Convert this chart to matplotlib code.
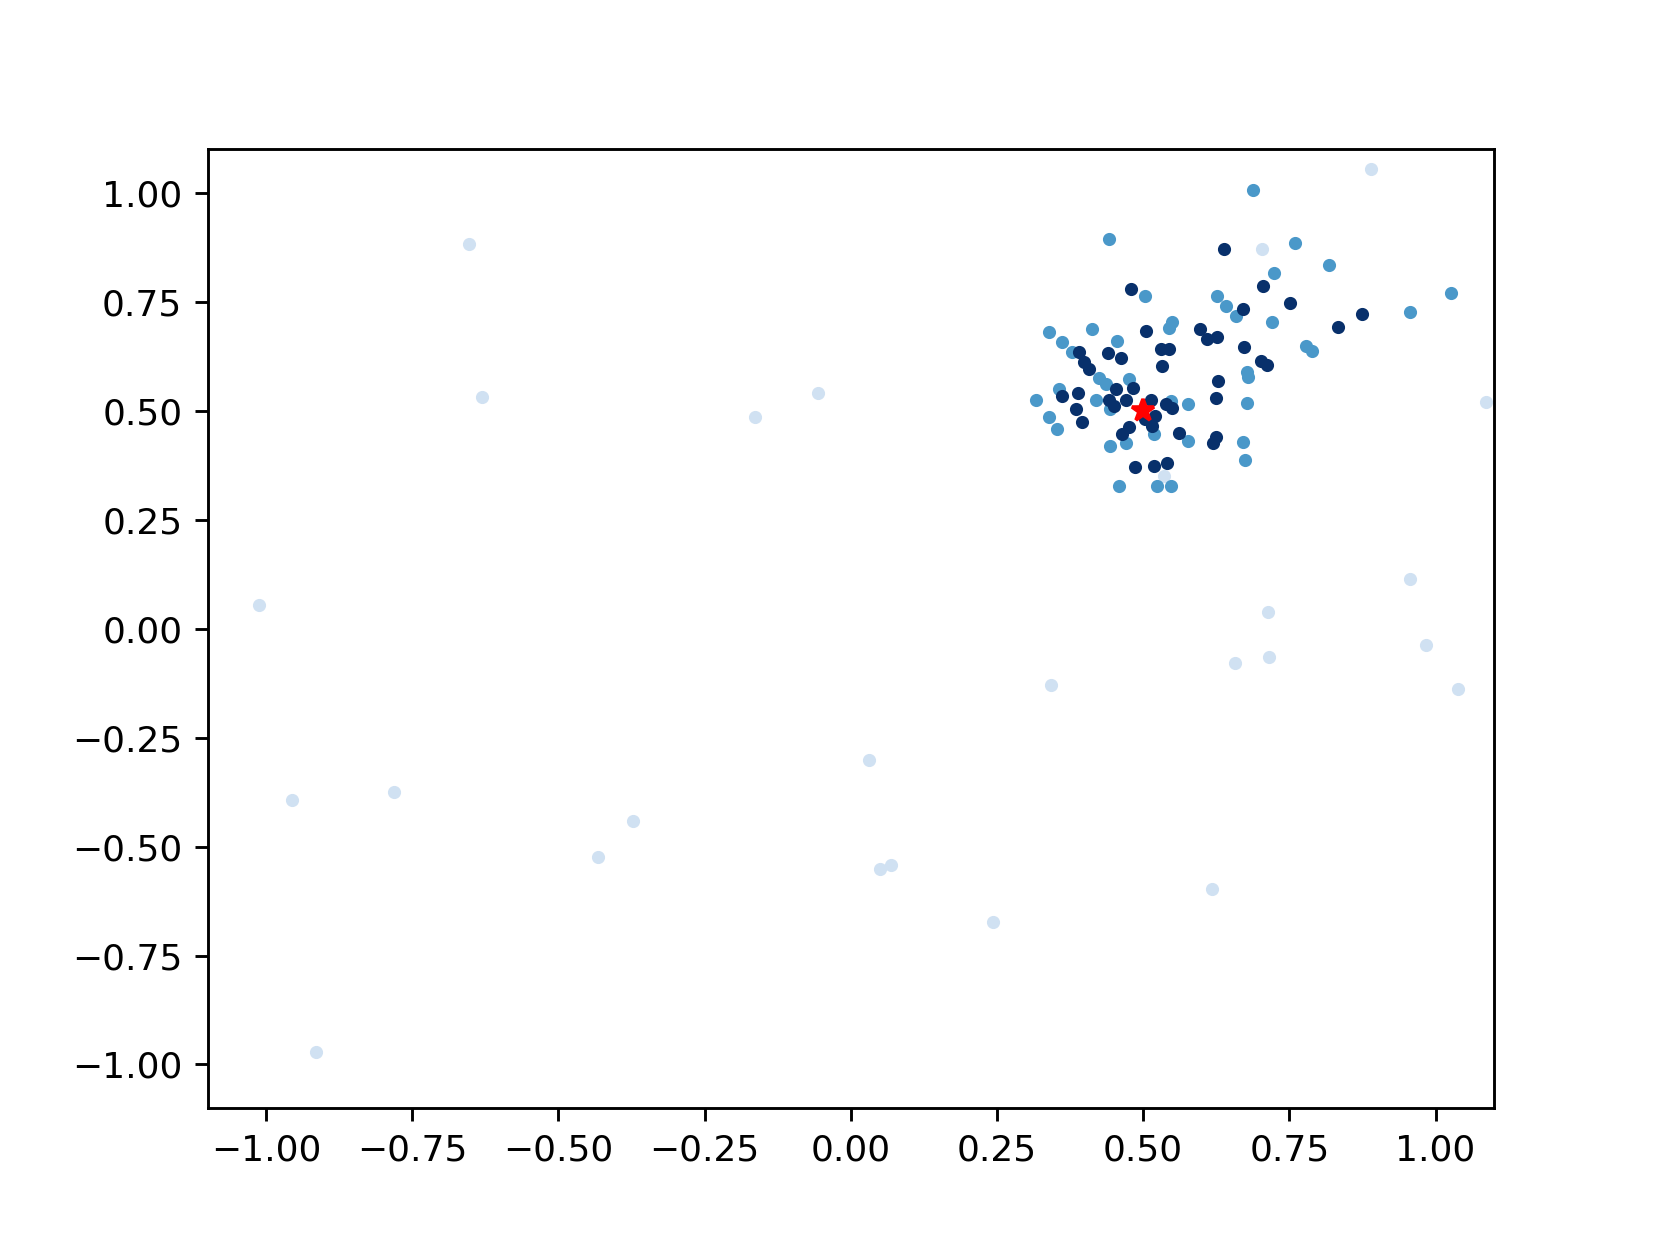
import matplotlib
matplotlib.use("Agg")
import matplotlib.pyplot as plt
from matplotlib.ticker import MultipleLocator
import numpy as np

# light group (far points)
light_x = [0.889, -0.653, -0.630, -0.164, -0.056, 0.703, 1.086, -1.012, 0.956, 0.714,
           0.984, 0.657, 0.716, 0.342, 1.039, 0.617, -0.956, -0.781, -0.372, -0.432,
           -0.914, 0.031, 0.050, 0.068, 0.243, 0.536]
light_y = [1.055, 0.884, 0.531, 0.485, 0.540, 0.871, 0.521, 0.054, 0.113, 0.038,
           -0.038, -0.079, -0.064, -0.129, -0.139, -0.598, -0.393, -0.374, -0.442, -0.525,
           -0.971, -0.302, -0.552, -0.542, -0.672, 0.350]

# medium group
mid_x = [0.339, 0.413, 0.362, 0.379, 0.456, 0.550, 0.544, 0.425, 0.436, 0.476,
         0.356, 0.316, 0.420, 0.444, 0.339, 0.353, 0.547, 0.577, 0.519, 0.444,
         0.470, 0.577, 0.459, 0.524, 0.547, 0.641, 0.658, 0.504, 0.721, 0.956,
         0.778, 0.789, 0.678, 0.679, 0.678, 0.670, 0.674, 1.026, 0.688, 0.442,
         0.759, 0.818, 0.723, 0.627]
mid_y = [0.680, 0.687, 0.657, 0.634, 0.660, 0.703, 0.691, 0.576, 0.561, 0.572,
         0.549, 0.526, 0.525, 0.504, 0.487, 0.458, 0.523, 0.515, 0.446, 0.419,
         0.427, 0.431, 0.328, 0.328, 0.328, 0.741, 0.718, 0.764, 0.703, 0.727,
         0.649, 0.637, 0.590, 0.578, 0.519, 0.429, 0.387, 0.771, 1.006, 0.894,
         0.886, 0.835, 0.816, 0.764]

# dark group
dark_x = [0.505, 0.598, 0.610, 0.627, 0.530, 0.544, 0.533, 0.390, 0.440, 0.463,
          0.399, 0.407, 0.453, 0.483, 0.361, 0.389, 0.442, 0.450, 0.471, 0.385,
          0.395, 0.513, 0.539, 0.550, 0.504, 0.516, 0.521, 0.464, 0.476, 0.562,
          0.628, 0.625, 0.619, 0.624, 0.486, 0.519, 0.540, 0.670, 0.752, 0.834,
          0.875, 0.672, 0.701, 0.712, 0.638, 0.705, 0.480]
dark_y = [0.683, 0.687, 0.664, 0.670, 0.643, 0.643, 0.603, 0.634, 0.632, 0.622,
          0.611, 0.597, 0.549, 0.553, 0.534, 0.542, 0.526, 0.511, 0.526, 0.504,
          0.474, 0.526, 0.515, 0.507, 0.481, 0.465, 0.488, 0.446, 0.462, 0.450,
          0.569, 0.530, 0.427, 0.439, 0.370, 0.373, 0.380, 0.733, 0.747, 0.693,
          0.723, 0.647, 0.614, 0.605, 0.872, 0.787, 0.779]

center_x = [0.5]
center_y = [0.5]

cols = plt.cm.Blues([0.2, 0.6, 1.0])

fig, ax = plt.subplots(figsize=(6.4, 4.8), dpi=1660 / 6.4)
ax.scatter(light_x, light_y, s=7, color=cols[0])
ax.scatter(mid_x, mid_y, s=7, color=cols[1])
ax.scatter(dark_x, dark_y, s=7, color=cols[2])
ax.plot(center_x, center_y, 'r*', ms=6.5)

ax.set_xlim(-1.1, 1.1)
ax.set_ylim(-1.1, 1.1)
ax.xaxis.set_major_locator(MultipleLocator(0.25))
ax.yaxis.set_major_locator(MultipleLocator(0.25))

fig.savefig("out.png", dpi=1660 / 6.4)
